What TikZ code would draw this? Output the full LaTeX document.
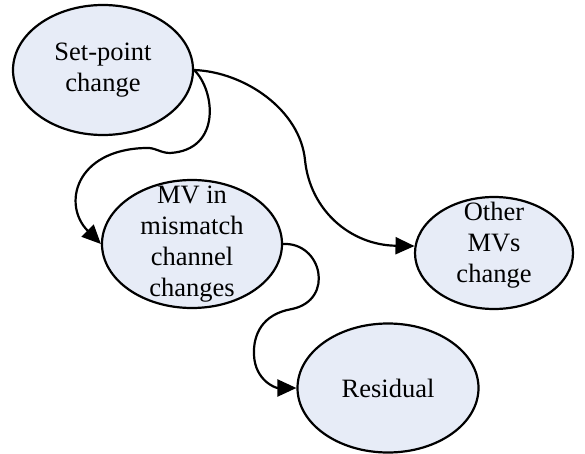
\documentclass[tikz,border=0pt]{standalone}
\usepackage{fontspec}
\setmainfont{Liberation Serif}
\usetikzlibrary{arrows.meta,shapes.geometric}
\definecolor{ovalfill}{RGB}{231,236,247}
\begin{document}
\begin{tikzpicture}[x=1pt,y=-1pt,
  oval/.style={ellipse,draw=black,fill=ovalfill,line width=2.2pt,inner sep=0pt},
  label text/.style={align=center,inner sep=0pt,font=\fontsize{26.5}{31}\selectfont},
  flow/.style={line width=2.2pt,-{Triangle[length=19pt,width=17pt]}}]
\useasboundingbox (0,0) rectangle (585,454);

% states
\node[oval,minimum width=180pt,minimum height=130pt] (sp)  at (103,70)  {};
\node[oval,minimum width=180pt,minimum height=128pt] (mv)  at (192,244) {};
\node[oval,minimum width=158pt,minimum height=112pt] (oth) at (494,253) {};
\node[oval,minimum width=181pt,minimum height=129pt] (res) at (388,388) {};

\node[label text] (sptext)  at (sp)  {Set-point\\change};
\node[label text] (mvtext)  at (mv)  {MV in\\mismatch\\channel\\changes};
\node[label text] (othtext) at ([yshift=8pt]oth) {Other\\MVs\\change};
\node[label text] (restext) at (res) {Residual};

% transitions
\draw[flow] (sp.east) .. controls (245,72) and (300,110) .. (305,160)
            .. controls (310,210) and (350,245) .. (oth.175);
\draw[flow] (sp.east) .. controls (215,90) and (222,150) .. (170,153)
            .. controls (160,153) and (155,147) .. (145,148)
            .. controls (75,150) and (62,205) .. (mv.west);
\draw[flow] (mv.east) .. controls (322,242) and (335,300) .. (292,309)
            .. controls (262,314) and (253,335) .. (254,355)
            .. controls (255,380) and (275,388) .. (res.west);
\end{tikzpicture}
\end{document}
